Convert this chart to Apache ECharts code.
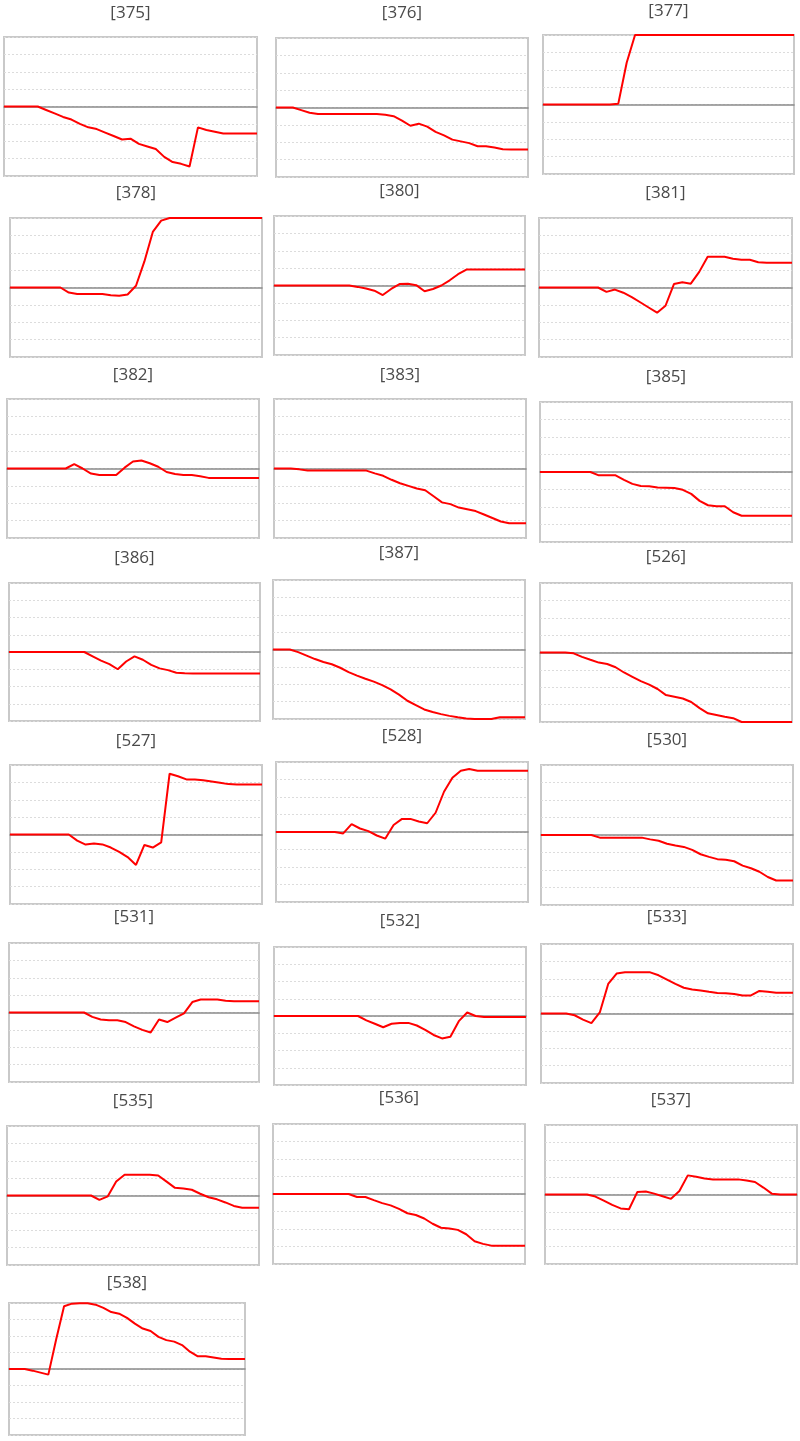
<!DOCTYPE html>
<html>
<head>
<meta charset="utf-8">
<script src="https://cdn.jsdelivr.net/npm/echarts@6/dist/echarts.min.js"></script>
<style>
html,body{margin:0;padding:0;background:#fff;}
#chart{width:800px;height:1441px;}
</style>
</head>
<body>
<div id="chart"></div>
<script>
// ---- data ----
const panelIds = ['375','376','377','378','380','381','382','383','385','386','387','526','527','528','530','531','532','533','535','536','537','538'];
const steps = ['1','2','3','4','5','6','7','8','9','10','11','12','13','14','15','16','17','18','19','20','21','22','23','24','25','26','27','28','29','30','31'];
const yTicks = [-4,-3,-2,-1,0,1,2,3,4];

const s375 = [0,0,0,0,0,-0.2,-0.4,-0.6,-0.75,-1.0,-1.2,-1.3,-1.5,-1.7,-1.9,-1.85,-2.15,-2.3,-2.45,-2.9,-3.2,-3.3,-3.45,-1.2,-1.35,-1.45,-1.55,-1.55,-1.55,-1.55,-1.55];
const s376 = [0,0,0,-0.15,-0.3,-0.38,-0.38,-0.38,-0.38,-0.38,-0.38,-0.38,-0.38,-0.42,-0.5,-0.75,-1.05,-0.93,-1.1,-1.4,-1.6,-1.85,-1.95,-2.05,-2.23,-2.23,-2.3,-2.4,-2.42,-2.42,-2.42];
const s377 = [0,0,0,0,0,0,0,0,0,0.05,2.4,4,4,4,4,4,4,4,4,4,4,4,4,4,4,4,4,4,4,4,4];
const s378 = [0,0,0,0,0,0,0,-0.29,-0.38,-0.38,-0.38,-0.38,-0.45,-0.48,-0.4,0.1,1.5,3.2,3.85,4,4,4,4,4,4,4,4,4,4,4,4];
const s380 = [0,0,0,0,0,0,0,0,0,0,-0.08,-0.17,-0.3,-0.55,-0.2,0.08,0.1,0.02,-0.33,-0.2,0.0,0.3,0.65,0.92,0.92,0.92,0.92,0.92,0.92,0.92,0.92];
const s381 = [0,0,0,0,0,0,0,0,-0.25,-0.12,-0.3,-0.55,-0.85,-1.15,-1.45,-1.05,0.2,0.3,0.22,0.9,1.77,1.77,1.77,1.65,1.6,1.6,1.45,1.42,1.42,1.42,1.42];
const s382 = [0,0,0,0,0,0,0,0,0.25,0.0,-0.29,-0.38,-0.38,-0.38,0.05,0.4,0.46,0.3,0.1,-0.2,-0.32,-0.38,-0.38,-0.45,-0.54,-0.54,-0.54,-0.54,-0.54,-0.54,-0.54];
const s383 = [0,0,0,-0.05,-0.12,-0.12,-0.12,-0.12,-0.12,-0.12,-0.12,-0.12,-0.28,-0.42,-0.65,-0.85,-1.0,-1.15,-1.25,-1.6,-1.95,-2.05,-2.25,-2.35,-2.45,-2.65,-2.85,-3.05,-3.15,-3.15,-3.15];
const s385 = [0,0,0,0,0,0,0,-0.19,-0.19,-0.19,-0.45,-0.68,-0.8,-0.81,-0.88,-0.9,-0.92,-1.02,-1.25,-1.65,-1.9,-1.96,-1.96,-2.3,-2.5,-2.5,-2.5,-2.5,-2.5,-2.5,-2.5];
const s386 = [0,0,0,0,0,0,0,0,0,0,-0.25,-0.5,-0.7,-1.0,-0.55,-0.25,-0.45,-0.75,-0.95,-1.05,-1.2,-1.23,-1.25,-1.25,-1.25,-1.25,-1.25,-1.25,-1.25,-1.25,-1.25];
const s387 = [0,0,0,-0.15,-0.35,-0.55,-0.72,-0.85,-1.05,-1.3,-1.5,-1.68,-1.85,-2.05,-2.3,-2.6,-2.95,-3.2,-3.45,-3.6,-3.72,-3.82,-3.9,-3.97,-4,-4,-4,-3.9,-3.9,-3.9,-3.9];
const s526 = [0,0,0,0,-0.05,-0.25,-0.42,-0.58,-0.66,-0.85,-1.15,-1.4,-1.65,-1.85,-2.1,-2.45,-2.55,-2.65,-2.85,-3.2,-3.5,-3.6,-3.7,-3.78,-4,-4,-4,-4,-4,-4,-4];
const s527 = [0,0,0,0,0,0,0,0,-0.35,-0.58,-0.52,-0.57,-0.75,-1.0,-1.3,-1.75,-0.6,-0.75,-0.45,3.5,3.35,3.17,3.17,3.12,3.05,2.98,2.9,2.88,2.88,2.88,2.88];
const s528 = [0,0,0,0,0,0,0,0,-0.08,0.45,0.2,0.05,-0.2,-0.38,0.4,0.75,0.75,0.6,0.5,1.1,2.3,3.1,3.5,3.6,3.5,3.5,3.5,3.5,3.5,3.5,3.5];
const s530 = [0,0,0,0,0,0,0,-0.15,-0.15,-0.15,-0.15,-0.15,-0.15,-0.25,-0.33,-0.5,-0.6,-0.68,-0.85,-1.1,-1.25,-1.38,-1.42,-1.5,-1.75,-1.9,-2.1,-2.4,-2.6,-2.6,-2.6];
const s531 = [0,0,0,0,0,0,0,0,0,0,-0.25,-0.4,-0.45,-0.45,-0.55,-0.8,-1.0,-1.15,-0.4,-0.55,-0.3,-0.05,0.6,0.75,0.75,0.75,0.68,0.65,0.65,0.65,0.65];
const s532 = [0,0,0,0,0,0,0,0,0,0,0,-0.25,-0.45,-0.65,-0.45,-0.4,-0.4,-0.55,-0.8,-1.1,-1.3,-1.2,-0.3,0.2,0.0,-0.06,-0.06,-0.06,-0.06,-0.06,-0.06];
const s533 = [0,0,0,0,-0.1,-0.35,-0.55,0.06,1.7,2.3,2.37,2.37,2.37,2.37,2.2,1.95,1.7,1.48,1.38,1.33,1.25,1.18,1.16,1.12,1.04,1.04,1.3,1.25,1.2,1.2,1.2];
const s535 = [0,0,0,0,0,0,0,0,0,0,0,-0.25,-0.05,0.8,1.2,1.2,1.2,1.2,1.15,0.8,0.44,0.4,0.33,0.1,-0.1,-0.22,-0.4,-0.6,-0.7,-0.7,-0.7];
const s536 = [0,0,0,0,0,0,0,0,0,0,-0.17,-0.17,-0.35,-0.52,-0.65,-0.85,-1.1,-1.2,-1.4,-1.7,-1.93,-1.97,-2.05,-2.3,-2.7,-2.85,-2.95,-2.95,-2.95,-2.95,-2.95];
const s537 = [0,0,0,0,0,0,-0.12,-0.35,-0.6,-0.8,-0.85,0.15,0.17,0.05,-0.1,-0.25,0.2,1.1,1.02,0.92,0.87,0.87,0.87,0.87,0.8,0.72,0.4,0.05,0,0,0];
const s538 = [0,0,0,-0.1,-0.22,-0.34,1.8,3.8,3.96,3.98,3.98,3.9,3.7,3.45,3.35,3.1,2.75,2.45,2.3,1.95,1.75,1.66,1.45,1.05,0.77,0.77,0.7,0.62,0.6,0.6,0.6];

const seriesValues = [s375,s376,s377,s378,s380,s381,s382,s383,s385,s386,s387,s526,s527,s528,s530,s531,s532,s533,s535,s536,s537,s538];

// ---- layout (left, top, width, height, title centre y) ----
const layout = [
  [4,37,253,139,13],[276,38,252,139,13],[543,35,251,139,11],
  [10,218,252,139,193],[274,216,251,139,191],[539,218,253,139,193],
  [7,399,252,139,375],[274,399,252,139,375],[540,402,252,140,377],
  [9,583,251,138,558],[273,580,252,139,553],[540,583,252,139,557],
  [10,765,252,139,741],[276,762,252,140,736],[541,765,252,140,740],
  [9,943,250,139,917],[274,947,252,138,921],[541,944,252,139,917],
  [7,1126,252,139,1101],[273,1124,252,140,1098],[545,1125,252,139,1100],
  [9,1303,236,132,1283]
];

const chart = echarts.init(document.getElementById('chart'), null, {renderer:'canvas'});
const grids = [], xAxes = [], yAxes = [], series = [], graphics = [];
panelIds.forEach((id, i) => {
  const [l, t, w, h, ty] = layout[i];
  grids.push({left:l, top:t, width:w, height:h, show:true, backgroundColor:'#fff',
    borderColor:'#c9c9c9', borderWidth:2, containLabel:false});
  xAxes.push({type:'category', gridIndex:i, data:steps, boundaryGap:false,
    axisLine:{show:true, onZero:true, lineStyle:{color:'#8a8a8a', width:1.5}},
    axisTick:{show:false}, axisLabel:{show:false}, splitLine:{show:false}});
  yAxes.push({type:'value', gridIndex:i, min:yTicks[0], max:yTicks[yTicks.length-1], interval:1,
    axisLine:{show:false}, axisTick:{show:false}, axisLabel:{show:false},
    splitLine:{show:true, lineStyle:{color:'#dcdcdc', width:1, type:[2,2]}}});
  series.push({type:'line', xAxisIndex:i, yAxisIndex:i, data:seriesValues[i],
    symbol:'none', smooth:false, silent:true, animation:false,
    lineStyle:{color:'#ff0000', width:2}, z:3});
  graphics.push({type:'text', x:l + w/2, y:ty, z:10,
    style:{text:'[' + id + ']', fill:'#4a4a4a', font:'17px "Open Sans", sans-serif',
      textAlign:'center', textVerticalAlign:'middle'}});
});

chart.setOption({
  animation:false,
  backgroundColor:'#fff',
  grid:grids, xAxis:xAxes, yAxis:yAxes, series:series,
  graphic:graphics
});
</script>
</body>
</html>
